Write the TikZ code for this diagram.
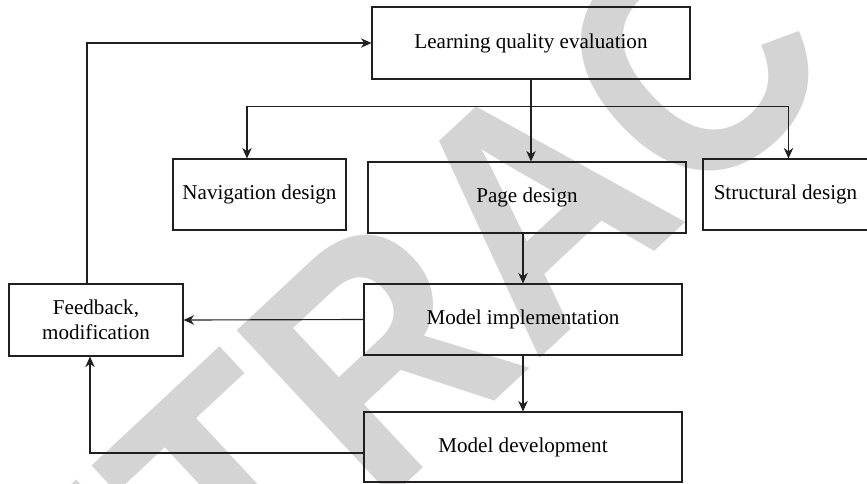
\documentclass[tikz,border=0pt]{standalone}
\usepackage{fontspec}
\setmainfont{Liberation Serif}
\newfontfamily\wmfont{Liberation Sans}
\usetikzlibrary{arrows.meta}
\definecolor{wmgray}{RGB}{212,212,212}
\definecolor{linegray}{RGB}{35,31,32}

\begin{document}
\begin{tikzpicture}[>={Stealth[length=6pt,width=5.4pt]}, line width=0.65pt,
  stage/.style={rectangle, draw=linegray, minimum width=6.36cm, minimum height=1.42cm, align=center, inner sep=0pt, font=\fontsize{12}{14}\selectfont},
  side/.style={stage, minimum width=3.46cm},
  arrow/.style={->, draw=linegray},
  watermark/.style={text=wmgray, rotate=43, xscale=0.9, inner sep=0pt, font=\wmfont\bfseries\fontsize{188}{188}\selectfont}]
  \useasboundingbox (0,0) rectangle (17.34,-9.66);
  \begin{scope}
    \clip (0,0) rectangle (17.34,-9.66);
    \node[watermark] (retracted) at (10.7,-4.15) {RETRACTED};
  \end{scope}
  \node[stage, minimum height=1.44cm] (lqe) at (10.62,-0.86) {Learning quality evaluation};
  \node[side] (nav) at (5.19,-3.89) {Navigation design};
  \node[stage] (page) at (10.54,-3.95) {Page design};
  \node[side, minimum width=3.30cm] (struct) at (15.71,-3.89) {Structural design};
  \node[side, minimum width=3.48cm, minimum height=1.44cm] (fb) at (1.92,-6.40) {Feedback,\\modification};
  \node[stage] (impl) at (10.46,-6.39) {Model implementation};
  \node[stage, minimum height=1.40cm] (dev) at (10.46,-8.94) {Model development};
  \coordinate (split) at ([yshift=-0.54cm]lqe.south);
  \draw[arrow] ([xshift=-0.18cm]fb.north) |- (lqe.west);
  \draw[arrow] (lqe.south) -- (lqe.south |- page.north);
  \draw[arrow] (split) -| ([xshift=-0.25cm]nav.north);
  \draw[arrow] (split) -| ([xshift=0.06cm]struct.north);
  \draw[arrow] (page.south -| impl.north) -- (impl.north);
  \draw[arrow] (impl.west) -- (fb.east);
  \draw[arrow] (impl.south) -- (dev.north);
  \draw[arrow] ([yshift=-0.12cm]dev.west) -| ([xshift=-0.12cm]fb.south);
\end{tikzpicture}
\end{document}
